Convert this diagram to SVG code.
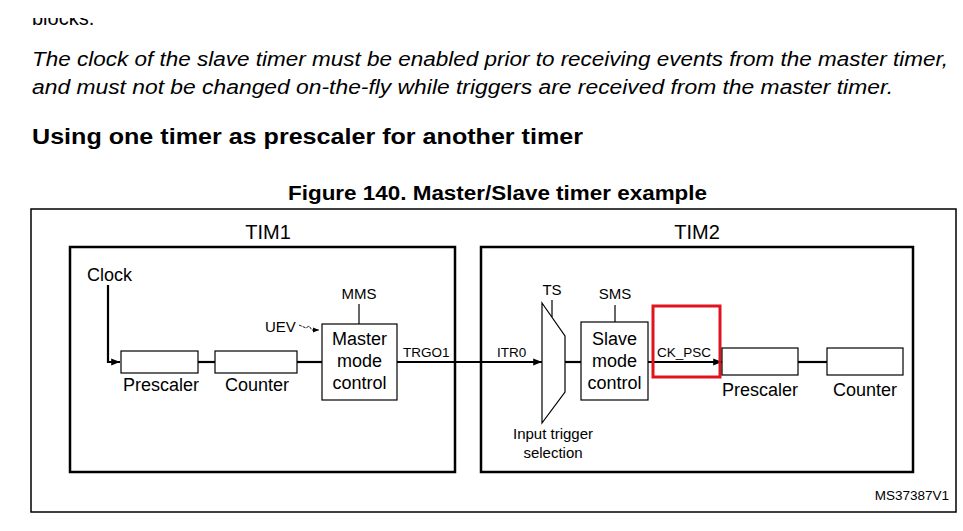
<svg xmlns="http://www.w3.org/2000/svg" width="963" height="531" viewBox="0 0 963 531">
<style>
  text { font-family: "Liberation Sans", Arial, sans-serif; fill: #000; }
  .para { font-size: 20px; font-style: italic; }
  .head { font-size: 22px; font-weight: bold; }
  .title { font-size: 20px; font-weight: bold; }
  .tim { font-size: 20px; text-anchor: middle; }
  .lbl { font-size: 18px; }
  .mid { text-anchor: middle; }
  .sm { font-size: 15px; }
  .xs { font-size: 13.5px; }
  .box { fill: #fff; stroke: #000; stroke-width: 1.2; }
  .timbox { fill: none; stroke: #000; stroke-width: 2.5; }
  .wire { fill: none; stroke: #000; stroke-width: 2.2; }
  .thin { fill: none; stroke: #000; stroke-width: 1.2; }
</style>
<defs>
  <marker id="arr" viewBox="0 0 10 10" refX="10" refY="5" markerWidth="4" markerHeight="4" orient="auto" markerUnits="strokeWidth">
    <path d="M0,1 L10,5 L0,9 z" fill="#000"/>
  </marker>
  <marker id="arrs" viewBox="0 0 10 10" refX="10" refY="5" markerWidth="7" markerHeight="7" orient="auto" markerUnits="strokeWidth">
    <path d="M0,1 L10,5 L0,9 z" fill="#000"/>
  </marker>
  <clipPath id="cut"><rect x="0" y="18" width="963" height="12"/></clipPath>
</defs>
<rect width="963" height="531" fill="#fff"/>

<g id="page-text">
  <text class="para" x="32" y="25" style="font-style:normal" clip-path="url(#cut)">blocks.</text>
  <text class="para" x="32" y="66" textLength="916" lengthAdjust="spacingAndGlyphs">The clock of the slave timer must be enabled prior to receiving events from the master timer,</text>
  <text class="para" x="32" y="94" textLength="861" lengthAdjust="spacingAndGlyphs">and must not be changed on-the-fly while triggers are received from the master timer.</text>
  <text class="head" x="32" y="144" textLength="551" lengthAdjust="spacingAndGlyphs">Using one timer as prescaler for another timer</text>
  <text class="title" x="288" y="200" textLength="419" lengthAdjust="spacingAndGlyphs">Figure 140. Master/Slave timer example</text>
</g>

<g id="frame">
  <rect x="31" y="209" width="925" height="303" fill="none" stroke="#000" stroke-width="1.5"/>
  <text class="xs" x="949" y="500" text-anchor="end">MS37387V1</text>
</g>

<g id="tim1">
  <rect class="timbox" x="70" y="247" width="385" height="225"/>
  <text class="tim" x="268" y="239">TIM1</text>
</g>
<g id="tim2">
  <rect class="timbox" x="481" y="247" width="432" height="225"/>
  <text class="tim" x="697" y="239">TIM2</text>
</g>

<g id="connectors">
  <path class="wire" d="M108,285 V362 H120" marker-end="url(#arr)"/>
  <line class="wire" x1="198" y1="362" x2="215" y2="362"/>
  <line class="wire" x1="297" y1="362" x2="322" y2="362"/>
  <line class="wire" x1="397" y1="362" x2="542" y2="362" marker-end="url(#arr)"/>
  <line class="wire" x1="565" y1="362" x2="581" y2="362"/>
  <line class="wire" x1="648" y1="362" x2="722" y2="362" marker-end="url(#arr)"/>
  <line class="wire" x1="798" y1="362" x2="827" y2="362"/>
  <line class="thin" x1="359" y1="304" x2="359" y2="324"/>
  <line class="thin" x1="615" y1="305" x2="615" y2="322"/>
  <line class="thin" x1="552" y1="300" x2="552" y2="317"/>
  <path d="M299,325 L306,328 L309,326 L312,330 L319,330" fill="none" stroke="#000" stroke-width="0.9" stroke-dasharray="3,1" marker-end="url(#arrs)"/>
</g>

<g id="clock">
  <text class="lbl" x="87" y="281">Clock</text>
</g>
<g id="tim1-prescaler">
  <rect class="box" x="121" y="351" width="77" height="22"/>
  <text class="lbl" x="123" y="391">Prescaler</text>
</g>
<g id="tim1-counter">
  <rect class="box" x="215" y="351" width="82" height="22"/>
  <text class="lbl" x="225" y="391">Counter</text>
</g>
<g id="master-mode-control">
  <rect class="box" x="322" y="324" width="75" height="76"/>
  <text class="lbl mid" x="359.5" y="345">Master</text>
  <text class="lbl mid" x="359.5" y="367">mode</text>
  <text class="lbl mid" x="359.5" y="389">control</text>
  <text class="sm mid" x="359" y="299">MMS</text>
  <text class="sm" x="265" y="332">UEV</text>
  <text class="xs" x="403" y="357">TRGO1</text>
</g>
<g id="input-trigger-selection">
  <path d="M542,303 L565,336 L565,392 L542,423 Z" fill="#fff" stroke="#000" stroke-width="1.2"/>
  <text class="sm mid" x="552" y="295">TS</text>
  <text class="xs" x="497" y="357">ITR0</text>
  <text class="sm mid" x="553" y="439">Input trigger</text>
  <text class="sm mid" x="553" y="458">selection</text>
</g>
<g id="slave-mode-control">
  <rect class="box" x="581" y="322" width="67" height="78"/>
  <text class="lbl mid" x="614.5" y="345">Slave</text>
  <text class="lbl mid" x="614.5" y="367">mode</text>
  <text class="lbl mid" x="614.5" y="389">control</text>
  <text class="sm mid" x="615" y="299">SMS</text>
</g>
<g id="ck-psc">
  <rect x="653" y="306" width="67" height="71" fill="none" stroke="#e0141e" stroke-width="3"/>
  <text class="xs" x="657" y="357">CK_PSC</text>
</g>
<g id="tim2-prescaler">
  <rect class="box" x="722" y="348" width="76" height="27"/>
  <text class="lbl" x="722" y="396">Prescaler</text>
</g>
<g id="tim2-counter">
  <rect class="box" x="827" y="348" width="76" height="27"/>
  <text class="lbl" x="833" y="396">Counter</text>
</g>
</svg>
